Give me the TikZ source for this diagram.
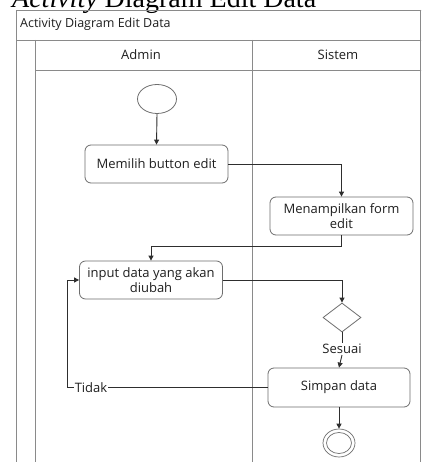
\documentclass[tikz,border=0pt]{standalone}
\usepackage{fontspec}
\setmainfont{Open Sans}
\newfontfamily\capfont{Liberation Serif}
\usetikzlibrary{arrows.meta,shapes.geometric}
\definecolor{framegray}{HTML}{8A8A8A}
\definecolor{boxgray}{HTML}{6E6E6E}
\definecolor{linedark}{HTML}{2E2E2E}
\tikzset{
  frameline/.style={draw=framegray, line width=0.9pt},
  action/.style={draw=boxgray, line width=0.8pt, rectangle, rounded corners=6pt,
    minimum width=143pt, minimum height=38pt, align=center, font=\fontsize{13}{14.5}\selectfont,
    inner sep=1pt, text=black!88},
  flow/.style={draw=linedark, line width=0.9pt, -{Triangle[length=5pt,width=5pt]}},
  plainflow/.style={draw=linedark, line width=0.9pt},
  lbl/.style={font=\fontsize{13}{14.5}\selectfont, inner sep=1pt, text=black!88},
}
\begin{document}
\begin{tikzpicture}[x=1pt,y=-1pt]
  \useasboundingbox (0,0) rectangle (421,462);
  \clip (0,0) rectangle (421,462);
  \fill[white] (0,0) rectangle (421,462);

  % caption above the frame
  \node[anchor=base west, inner sep=0, font=\capfont\fontsize{28}{30}\selectfont] (caption)
    at (12,8) {\textit{Activity} Diagram Edit Data};

  % swimlane frame
  \draw[frameline] (16,470) -- (16,10) -- (425,10);
  \draw[frameline] (16,40) -- (425,40);
  \draw[frameline] (35,40) -- (35,470);
  \draw[frameline] (35,70) -- (425,70);
  \draw[frameline] (252,40) -- (252,470);
  \draw[frameline] (420.5,10) -- (420.5,470);

  \node[anchor=west, font=\fontsize{12.5}{14}\selectfont, inner sep=0, text=black!88] (title) at (20,24) {Activity Diagram Edit Data};
  \node[lbl] (adminhead) at (141,55) {Admin};
  \node[lbl] (sistemhead) at (338,55) {Sistem};

  % activity nodes
  \node[draw=boxgray, line width=0.8pt, ellipse, minimum width=39pt, minimum height=29pt, inner sep=0] (start) at (157,99) {};
  \node[action] (memilih) at (156.5,164) {Memilih button edit};
  \node[action] (tampil) at (341.5,216) {Menampilkan form\\edit};
  \node[action] (input) at (151,280) {input data yang akan\\diubah};
  \node[draw=boxgray, line width=0.8pt, diamond, minimum width=38pt, minimum height=29pt, inner sep=0] (cek) at (342,317.5) {};
  \node[lbl] (sesuai) at (342,349) {Sesuai};
  \node[action, minimum width=142pt, minimum height=39pt] (simpan) at (339,387.5) {Simpan data};
  \node[lbl] (tidak) at (91,387.5) {Tidak};
  \coordinate (loopcorner) at (67,387.5);
  \node[draw=boxgray, line width=0.7pt, ellipse, minimum width=32pt, minimum height=28pt, inner sep=0] (akhir) at (339,443) {};
  \node[draw=boxgray, line width=0.7pt, ellipse, minimum width=25pt, minimum height=21pt, inner sep=0] (akhirdalam) at (339,443) {};

  % control flow
  \draw[flow] (start.south) -- (memilih.north);
  \draw[flow] (memilih.east) -| (tampil.north);
  \draw[flow] (tampil.south) -- ++(0,11) -| (input.north);
  \draw[flow] (input.east) -| (cek.north);
  \draw[plainflow] (cek.south) -- (sesuai.north);
  \draw[flow] (sesuai.south) -- (simpan.north);
  \draw[plainflow] (simpan.west) -- (tidak.east);
  \draw[flow] (tidak.west) -- (loopcorner) |- (input.west);
  \draw[flow] (simpan.south) -- (akhir.north);
\end{tikzpicture}
\end{document}
